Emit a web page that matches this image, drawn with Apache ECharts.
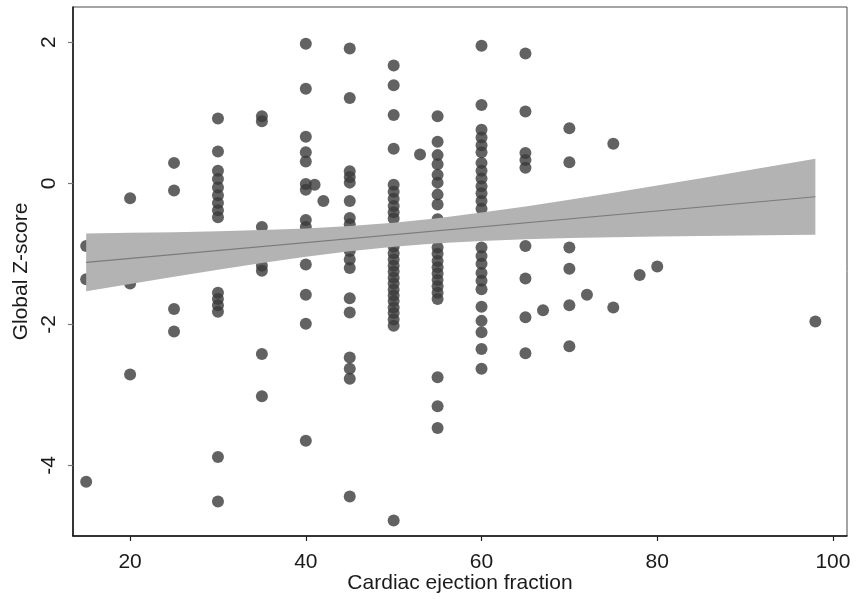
<!DOCTYPE html>
<html>
<head>
<meta charset="utf-8">
<script src="https://cdn.jsdelivr.net/npm/echarts@6/dist/echarts.min.js"></script>
<style>
html,body{margin:0;padding:0;background:#fff;}
#chart{width:857px;height:599px;}
</style>
</head>
<body>
<div id="chart"></div>
<script>
// Ejection fraction columns and the Z-scores observed at each
const efColumns = [15, 20, 25, 30, 35, 40, 41, 42, 45, 50, 53, 55, 60, 65, 67, 70, 72, 75, 78, 80, 98];
const zColumns = [
  [-0.89, -1.36, -4.23],
  [-0.21, -1.42, -2.71],
  [0.29, -0.10, -1.78, -2.10],
  [0.92, 0.45, 0.18, 0.06, -0.06, -0.17, -0.28, -0.38, -0.48, -1.55, -1.64, -1.73, -1.82, -3.88, -4.51],
  [0.95, 0.88, -0.62, -1.17, -1.24, -2.42, -3.02],
  [1.98, 1.34, 0.66, 0.44, 0.31, -0.01, -0.09, -0.52, -0.62, -1.15, -1.58, -1.99, -3.65],
  [-0.02],
  [-0.25],
  [1.91, 1.21, 0.17, 0.09, 0.01, -0.25, -0.49, -0.58, -0.96, -1.08, -1.20, -1.63, -1.83, -2.47, -2.63, -2.77, -4.44],
  [1.67, 1.39, 0.97, 0.49, -0.02, -0.12, -0.22, -0.32, -0.41, -0.50, -0.65, -0.78, -0.90, -0.99, -1.08, -1.17, -1.25, -1.34, -1.42, -1.51, -1.59, -1.67, -1.76, -1.84, -1.93, -2.02, -4.78],
  [0.41],
  [0.95, 0.59, 0.40, 0.27, 0.12, 0.01, -0.16, -0.30, -0.51, -0.91, -1.00, -1.10, -1.19, -1.28, -1.37, -1.46, -1.55, -1.64, -2.75, -3.16, -3.47],
  [1.95, 1.11, 0.76, 0.65, 0.54, 0.44, 0.29, 0.18, 0.07, -0.04, -0.14, -0.25, -0.36, -0.91, -1.03, -1.14, -1.27, -1.38, -1.50, -1.75, -1.95, -2.11, -2.35, -2.63],
  [1.84, 1.02, 0.43, 0.33, 0.22, -0.89, -1.35, -1.90, -2.41],
  [-1.80],
  [0.78, 0.30, -0.91, -1.21, -1.73, -2.31],
  [-1.58],
  [0.56, -1.76],
  [-1.30],
  [-1.18],
  [-1.96]
];

// Linear fit
const fitX = [15, 98];
const fitY = [-1.12, -0.19];

// 95% confidence band
const bandX = [15, 20, 25, 30, 35, 40, 45, 50, 55, 60, 65, 70, 75, 80, 85, 90, 95, 98];
const bandUpper = [-0.711, -0.702, -0.692, -0.680, -0.663, -0.639, -0.606, -0.558, -0.494, -0.415, -0.327, -0.232, -0.132, -0.030, 0.073, 0.178, 0.284, 0.348];
const bandLower = [-1.529, -1.426, -1.324, -1.224, -1.129, -1.041, -0.962, -0.898, -0.850, -0.817, -0.793, -0.776, -0.764, -0.754, -0.745, -0.738, -0.732, -0.728];

// Axis ticks
const xTicks = [20, 40, 60, 80, 100];
const yTicks = [-4, -2, 0, 2];

const scatterData = [];
efColumns.forEach(function (ef, i) {
  zColumns[i].forEach(function (z) { scatterData.push([ef, z]); });
});
const fitData = fitX.map(function (x, i) { return [x, fitY[i]]; });

const chart = echarts.init(document.getElementById('chart'), null, { renderer: 'canvas' });
const font = 'Liberation Sans, Arial, Helvetica, sans-serif';

chart.setOption({
  animation: false,
  backgroundColor: '#ffffff',
  grid: {
    left: 73, right: 10, top: 7, bottom: 63,
    containLabel: false,
    outerBoundsMode: 'none',
    show: true, borderColor: '#4a4a4a', borderWidth: 1, backgroundColor: '#ffffff'
  },
  xAxis: {
    type: 'value',
    min: 13.5, max: 101.6,
    name: 'Cardiac ejection fraction',
    nameLocation: 'middle',
    nameGap: 37,
    nameMoveOverlap: false,
    nameTextStyle: { fontFamily: font, fontSize: 21, color: '#1a1a1a' },
    axisLine: { show: true, onZero: false, lineStyle: { color: '#111', width: 1.5 } },
    axisTick: { show: true, customValues: xTicks, length: 5, lineStyle: { color: '#222', width: 1.2 } },
    axisLabel: { customValues: xTicks, fontFamily: font, fontSize: 21, color: '#1a1a1a', margin: 16 },
    splitLine: { show: false }
  },
  yAxis: {
    type: 'value',
    min: -5, max: 2.5,
    name: 'Global Z-score',
    nameLocation: 'middle',
    nameRotate: 90,
    nameGap: 41,
    nameMoveOverlap: false,
    nameTextStyle: { fontFamily: font, fontSize: 21, color: '#1a1a1a' },
    axisLine: { show: true, onZero: false, lineStyle: { color: '#111', width: 1.5 } },
    axisTick: { show: true, customValues: yTicks, length: 5, lineStyle: { color: '#777', width: 1.2 } },
    axisLabel: { customValues: yTicks, rotate: 90, fontFamily: font, fontSize: 21, color: '#1a1a1a', margin: 13 },
    splitLine: { show: false }
  },
  series: [
    {
      type: 'scatter',
      data: scatterData,
      symbol: 'circle',
      symbolSize: 12,
      itemStyle: { color: '#3b3b3b' },
      z: 2
    },
    {
      type: 'custom',
      data: [[bandX[0], bandUpper[0]]],
      z: 3,
      silent: true,
      renderItem: function (params, api) {
        const pts = [];
        for (let i = 0; i < bandX.length; i++) pts.push(api.coord([bandX[i], bandUpper[i]]));
        for (let i = bandX.length - 1; i >= 0; i--) pts.push(api.coord([bandX[i], bandLower[i]]));
        return { type: 'polygon', shape: { points: pts }, style: { fill: '#b3b3b3' } };
      }
    },
    {
      type: 'line',
      data: fitData,
      symbol: 'none',
      lineStyle: { color: '#7b7b7b', width: 1.2 },
      z: 4
    }
  ]
});
</script>
</body>
</html>
